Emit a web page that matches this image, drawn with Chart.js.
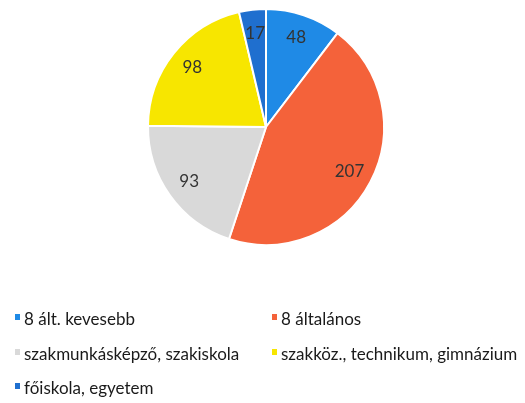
<!DOCTYPE html>
<html>
<head>
<meta charset="utf-8">
<script src="https://cdn.jsdelivr.net/npm/chart.js@4"></script>
<style>
  html, body { margin: 0; padding: 0; background: #fff; }
  #wrap { width: 525px; height: 403px; position: relative; }
</style>
</head>
<body>
<div id="wrap"><canvas id="pie"></canvas></div>
<script>
const categories = [
  '8 ált. kevesebb',
  '8 általános',
  'szakmunkásképző, szakiskola',
  'szakköz., technikum, gimnázium',
  'főiskola, egyetem'
];
const counts = [48, 207, 93, 98, 17];
const colors = ['#1f8ae6', '#f4623a', '#d9d9d9', '#f7e600', '#1f6fcf'];

// numbers inside the slices
const sliceLabels = {
  id: 'sliceLabels',
  afterDatasetsDraw(chart) {
    const ctx = chart.ctx;
    const meta = chart.getDatasetMeta(0);
    ctx.save();
    ctx.font = '17px Lato, "DejaVu Sans", sans-serif';
    ctx.fillStyle = '#333';
    ctx.textAlign = 'center';
    ctx.textBaseline = 'middle';
    meta.data.forEach((arc, i) => {
      const p = arc.getProps(['x', 'y', 'startAngle', 'endAngle', 'outerRadius'], true);
      const mid = (p.startAngle + p.endAngle) / 2;
      const r = p.outerRadius * 0.8;
      ctx.fillText(String(counts[i]), p.x + Math.cos(mid) * r, p.y + Math.sin(mid) * r);
    });
    ctx.restore();
  }
};

// two-column legend under the pie
const gridLegend = {
  id: 'gridLegend',
  afterDraw(chart) {
    const ctx = chart.ctx;
    const items = chart.options.plugins.legend.labels.generateLabels(chart);
    const colX = [15, 272];
    const rowY = [320, 355, 389];
    ctx.save();
    ctx.font = '17px Lato, "DejaVu Sans", sans-serif';
    ctx.textBaseline = 'middle';
    items.forEach((it, i) => {
      const x = colX[i % 2];
      const y = rowY[Math.floor(i / 2)];
      ctx.fillStyle = it.fillStyle;
      ctx.fillRect(x, y - 6, 5, 6);
      ctx.fillStyle = '#1a1a1a';
      ctx.fillText(it.text, x + 9, y);
    });
    ctx.restore();
  }
};

new Chart(document.getElementById('pie').getContext('2d'), {
  type: 'pie',
  data: {
    labels: categories,
    datasets: [{
      data: counts,
      backgroundColor: colors,
      borderColor: '#ffffff',
      borderWidth: 2
    }]
  },
  options: {
    responsive: true,
    maintainAspectRatio: false,
    animation: false,
    layout: { padding: { top: 8, bottom: 157, left: 7, right: 0 } },
    plugins: {
      legend: { display: false },
      tooltip: { enabled: false }
    }
  },
  plugins: [sliceLabels, gridLegend]
});
</script>
</body>
</html>
